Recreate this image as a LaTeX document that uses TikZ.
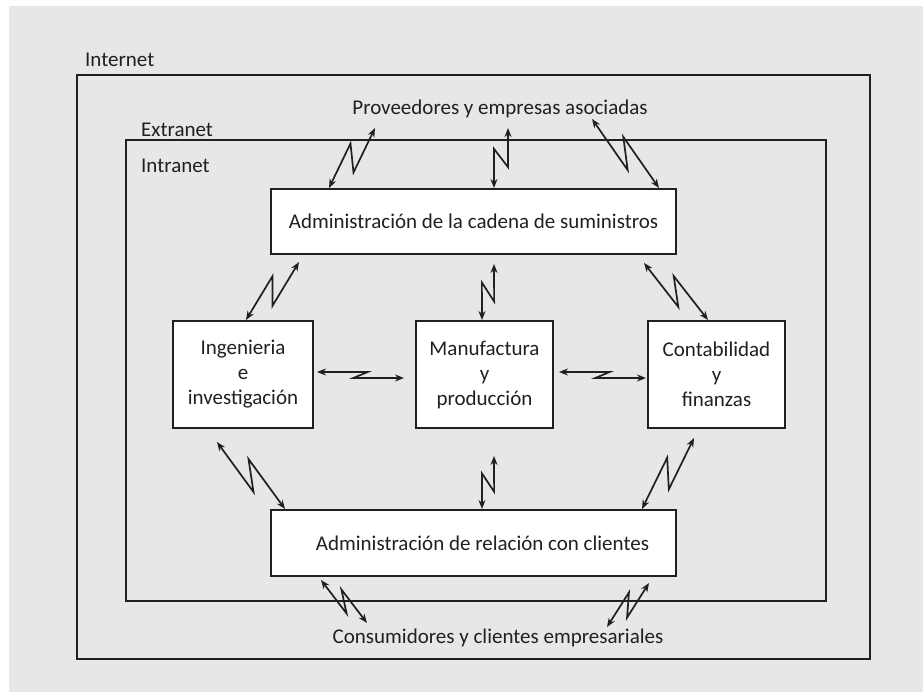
\documentclass[tikz,border=0pt]{standalone}
\usepackage{fontspec}
\setmainfont{Carlito}
\usetikzlibrary{positioning, calc, arrows.meta}

\definecolor{panel}{HTML}{E6E7E8}
\definecolor{ink}{HTML}{231F20}

% lightning link: from, to, offset of the kink, fraction
\newcommand{\linkbolt}[4]{%
  \path #1 coordinate (bA) #2 coordinate (bB);
  \pgfmathsetmacro\boltback{1-#4}
  \draw[link] (bA) -- ($(bA)!#4!(bB)!#3!90:(bB)$)
    -- ($(bA)!\boltback!(bB)!#3!-90:(bB)$) -- (bB);
}

\begin{document}
\begin{tikzpicture}[
        x=1pt, y=-1pt,
        font=\fontsize{21pt}{25pt}\selectfont,
        box/.style = {rectangle, draw=ink, fill=white, line width=2pt, align=center, text=ink, inner sep=2pt},
        frame/.style = {draw=ink, line width=2pt},
        tag/.style = {inner sep=0pt, text=ink},
        link/.style = {draw=ink, line width=1.7pt, {Stealth[length=9pt,width=7pt]}-{Stealth[length=9pt,width=7pt]}}
    ]
        \useasboundingbox (0,0) rectangle (923,692);
        \fill[panel] (9,6) rectangle (923,692);

        % Networks
        \draw[frame] (77,75) rectangle (870,659);
        \draw[frame] (126,140) rectangle (826,601);
        \node[tag, anchor=base west] (internet) at (85,67) {Internet};
        \node[tag, anchor=base west] (extranet) at (141,137) {Extranet};
        \node[tag, anchor=base west] (intranet) at (141,172.5) {Intranet};
        \node[tag, anchor=base] (sup) at (500,115) {Proveedores y empresas asociadas};
        \node[tag, anchor=base] (cus) at (498,643) {Consumidores y clientes empresariales};

        % Business processes
        \node[box, minimum width=137pt, minimum height=107pt] (mfg) at (484.5,374.5) {Manufactura\\y\\producción};
        \node[box, minimum width=140pt, minimum height=107pt, left=101pt of mfg] (eng) {Ingenieria\\e\\investigación};
        \node[box, minimum width=137pt, minimum height=107pt, right=93pt of mfg] (acc) {Contabilidad\\y\\finanzas};
        \node[box, minimum width=405pt, minimum height=65pt, above=65pt of mfg, xshift=-11pt] (scm) {Administración de la cadena de suministros};
        \node[box, minimum width=405pt, minimum height=66pt, below=80pt of mfg, xshift=-11pt] (crm) {\hspace*{18pt}Administración de relación con clientes};

        % Free ends
        \coordinate (sup1) at (375,128);
        \coordinate (sup2) at (508,128);
        \coordinate (sup3) at (592,119);
        \coordinate (cus1) at (367,623);
        \coordinate (cus2) at (607,627);

        % Links
        \linkbolt{($(scm.north west)+(59,0)$)}{(sup1)}{10pt}{.64}
        \linkbolt{($(scm.north)+(20.5,0)$)}{(sup2)}{9pt}{.62}
        \linkbolt{($(scm.north east)+(-18,0)$)}{(sup3)}{-10pt}{.64}
        \linkbolt{($(eng.north)+(3,0)$)}{($(scm.south west)+(29,7)$)}{10pt}{.64}
        \linkbolt{($(mfg.north)+(-2.5,0)$)}{($(scm.south)+(20.5,9)$)}{8pt}{.64}
        \linkbolt{($(acc.north)+(-8.5,0)$)}{($(scm.south east)+(-33,8)$)}{-10pt}{.64}
        \linkbolt{($(eng.east)+(3,-2.5)$)}{($(mfg.west)+(-11,3.5)$)}{3.5pt}{.58}
        \linkbolt{($(mfg.east)+(5,-2.5)$)}{($(acc.west)+(-1,3.5)$)}{3.5pt}{.58}
        \linkbolt{($(eng.south)+(-26,13)$)}{($(crm.north west)+(15,0)$)}{-10pt}{.64}
        \linkbolt{($(mfg.south)+(9.5,27)$)}{($(crm.north)+(8.5,0)$)}{8pt}{.64}
        \linkbolt{($(acc.south)+(-22.5,9)$)}{($(crm.north east)+(-35,0)$)}{10pt}{.64}
        \linkbolt{($(crm.south west)+(51,3)$)}{(cus1)}{-7pt}{.66}
        \linkbolt{($(crm.south east)+(-28,6)$)}{(cus2)}{8pt}{.66}
    \end{tikzpicture}
\end{document}
